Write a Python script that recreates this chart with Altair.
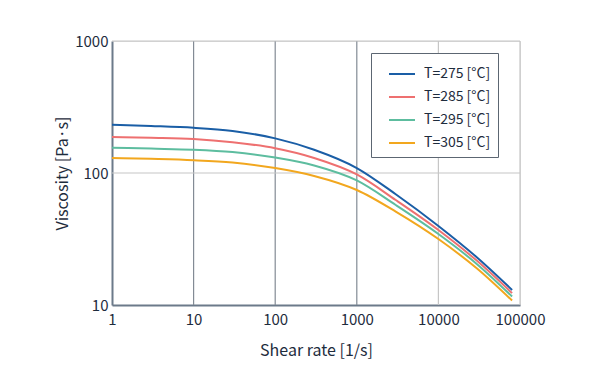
import altair as alt
import pandas as pd

shear = [1, 3, 10, 30, 100, 300, 1000, 3000, 10000, 30000, 80000]
v275 = [232, 227, 220, 208, 183, 150, 109, 69, 39.7, 22.8, 13.0]
v285 = [187.5, 185, 181, 171, 154, 130, 97.5, 62.4, 37, 21.5, 12.3]
v295 = [155.6, 153, 150, 144, 131, 114, 87.8, 57.2, 34.5, 20.3, 11.6]
v305 = [130, 128, 125, 120, 109, 95, 74.3, 51, 31.6, 18.8, 10.8]
series = ["T=275 [°C]", "T=285 [°C]", "T=295 [°C]", "T=305 [°C]"]
colors = ["#1a5ea6", "#ee7070", "#5dbd9f", "#f2a71e"]

x_ticks = [1, 10, 100, 1000, 10000, 100000]
y_ticks = [10, 100, 1000]

rows = []
for name, vals in zip(series, [v275, v285, v295, v305]):
    for s, v in zip(shear, vals):
        rows.append({"shear": s, "visc": v, "T": name})
df = pd.DataFrame(rows)

FONT = "Noto Sans CJK JP"
TXT = "#1e2c3d"

xs = alt.Scale(type="log", domain=[1, 100000], nice=False)
ys = alt.Scale(type="log", domain=[10, 1000], nice=False)

vgrid = pd.DataFrame({"x": [10, 100, 1000, 10000, 100000],
                      "c": ["#838b95", "#838b95", "#838b95", "#c6c6c6", "#c6c6c6"]})
hgrid = pd.DataFrame({"y": [100, 1000], "c": ["#c6c6c6", "#c6c6c6"]})

vrules = alt.Chart(vgrid).mark_rule(strokeWidth=1.2).encode(
    x=alt.X("x:Q", scale=xs), color=alt.Color("c:N", scale=None))
hrules = alt.Chart(hgrid).mark_rule(strokeWidth=1.2).encode(
    y=alt.Y("y:Q", scale=ys), color=alt.Color("c:N", scale=None))

lines = alt.Chart(df).mark_line(strokeWidth=2, interpolate="monotone").encode(
    x=alt.X("shear:Q", scale=xs,
            axis=alt.Axis(title="Shear rate [1/s]", values=x_ticks, format="d",
                          grid=False, ticks=False, labelPadding=7, titlePadding=15,
                          labelFlush=False, labelOverlap=False,
                          domainColor="#6c7a8a", domainWidth=2,
                          labelFontSize=15, titleFontSize=16)),
    y=alt.Y("visc:Q", scale=ys,
            axis=alt.Axis(title="Viscosity [Pa·s]", values=y_ticks, format="d",
                          grid=False, ticks=False, labelPadding=4, titlePadding=4,
                          labelFlush=False, labelOverlap=False,
                          domainColor="#6c7a8a", domainWidth=2,
                          labelFontSize=15, titleFontSize=16)),
    color=alt.Color("T:N", scale=alt.Scale(domain=series, range=colors),
                    legend=alt.Legend(title=None, orient="none", legendX=259, legendY=12,
                                      symbolType="stroke", symbolSize=676,
                                      symbolStrokeWidth=2, symbolOffset=10,
                                      labelFontSize=14,
                                      labelExpr="datum.label + '\u00a0\u00a0\u00a0'",
                                      labelOffset=8, rowPadding=2,
                                      padding=7, strokeColor="#5c6672",
                                      fillColor="white", labelColor=TXT)),
)

chart = alt.layer(vrules, hrules, lines).properties(
    width=408, height=264,
    autosize=alt.AutoSizeParams(type="none"),
    padding={"left": 104, "top": 33, "right": 60, "bottom": 70},
).configure_view(stroke=None).configure(font=FONT).configure_axis(
    labelColor=TXT, titleColor=TXT, titleFontWeight="normal", labelFont=FONT, titleFont=FONT
).configure_legend(labelFont=FONT)

chart.save("out.html", embed_options={"renderer": "svg", "actions": False})
